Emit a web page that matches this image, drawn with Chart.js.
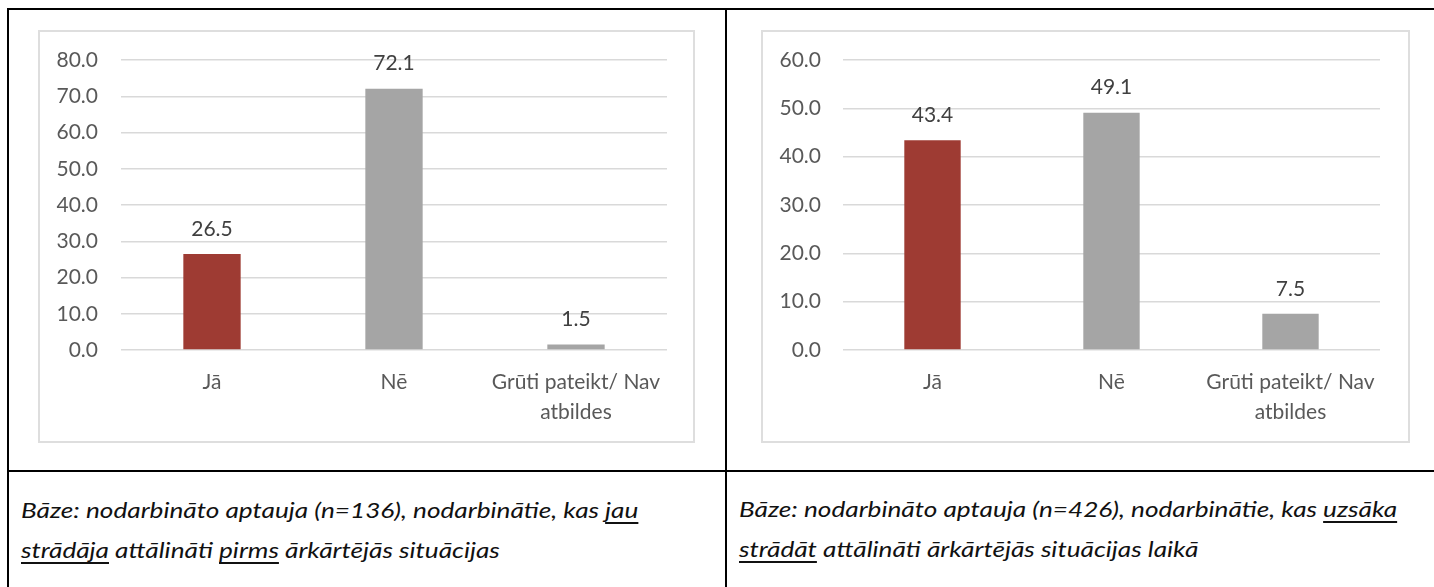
<!DOCTYPE html>
<html>
<head>
<meta charset="utf-8">
<script src="https://cdn.jsdelivr.net/npm/chart.js@4"></script>
<style>
  body { margin: 0; background: #fff; font-family: Lato, sans-serif; }
  .rule { position: absolute; background: #000; }
  .frame { position: absolute; border: 2px solid #dedede; box-sizing: border-box; }
  .plot { position: absolute; }
  .caption {
    position: absolute; font-style: italic; font-size: 22px; line-height: 40px;
    white-space: nowrap; color: #111;
    transform: scaleX(1.19); transform-origin: 0 0;
  }
  .caption u { text-underline-offset: 4px; text-decoration-thickness: 1.5px; }
</style>
</head>
<body>
<!-- table grid -->
<div class="rule" style="left:7px; top:8px; width:1427px; height:2px"></div>
<div class="rule" style="left:7px; top:8px; width:2px; height:579px"></div>
<div class="rule" style="left:725px; top:8px; width:2px; height:579px"></div>
<div class="rule" style="left:7px; top:470px; width:1427px; height:2px"></div>

<div class="frame" style="left:38px; top:30px; width:657px; height:413px"></div>
<div class="frame" style="left:761px; top:30px; width:649px; height:413px"></div>

<canvas class="plot" id="chartBefore" width="656" height="412" style="left:38px; top:30px"></canvas>
<canvas class="plot" id="chartDuring" width="648" height="412" style="left:761px; top:30px"></canvas>

<div class="caption" style="left:21px; top:490px">
  Bāze: nodarbināto aptauja (n=136), nodarbinātie, kas <u>jau</u><br>
  <u>strādāja</u> attālināti <u>pirms</u> ārkārtējās situācijas
</div>
<div class="caption" style="left:739px; top:489px">
  Bāze: nodarbināto aptauja (n=426), nodarbinātie, kas <u>uzsāka</u><br>
  <u>strādāt</u> attālināti ārkārtējās situācijas laikā
</div>

<script>
  const categories = ["Jā", "Nē", ["Grūti pateikt/ Nav", "atbildes"]];
  const barColors = ["#9e3b33", "#a5a5a5", "#a5a5a5"];

  // already worked remotely before the emergency
  const valuesBefore = [26.5, 72.1, 1.5];
  // started working remotely during the emergency
  const valuesDuring = [43.4, 49.1, 7.5];

  const FONT = { family: "Lato, sans-serif", size: 21 };

  // writes the value above each bar
  const valueLabels = {
    id: "valueLabels",
    afterDatasetsDraw(chart) {
      const ctx = chart.ctx;
      const ds = chart.data.datasets[0];
      ctx.save();
      ctx.font = FONT.size + "px " + FONT.family;
      ctx.fillStyle = "#404040";
      ctx.textAlign = "center";
      ctx.textBaseline = "middle";
      chart.getDatasetMeta(0).data.forEach((bar, i) => {
        ctx.fillText(ds.data[i].toFixed(1), bar.x, bar.y - 25);
      });
      ctx.restore();
    },
  };

  function createChart(id, values, yMax, axisWidth, rightPad, labelPad) {
    const ctx = document.getElementById(id).getContext("2d");
    return new Chart(ctx, {
      type: "bar",
      data: {
        labels: categories,
        datasets: [
          {
            data: values,
            backgroundColor: barColors,
            categoryPercentage: 1,
            barPercentage: 0.315,
          },
        ],
      },
      options: {
        responsive: false,
        animation: false,
        layout: { padding: { top: 30, right: rightPad, left: 0, bottom: 0 } },
        plugins: { legend: { display: false }, tooltip: { enabled: false } },
        scales: {
          x: {
            grid: { display: false },
            border: { display: false },
            ticks: {
              color: "#595959",
              font: { ...FONT, lineHeight: 30 / 21 },
              padding: 9,
              maxRotation: 0,
              autoSkip: false,
            },
            afterFit: (s) => { s.height = 92; },
          },
          y: {
            min: 0,
            max: yMax,
            border: { display: false },
            grid: { color: "#d9d9d9", lineWidth: 1.5, drawTicks: false },
            ticks: {
              stepSize: 10,
              color: "#595959",
              font: FONT,
              padding: labelPad,
              callback: (v) => v.toFixed(1),
            },
            // fixed axis width; label padding should not push the plot down
            afterFit: (s) => {
              s.width = axisWidth;
              s.paddingTop = 0;
              s.paddingBottom = 0;
            },
          },
        },
      },
      plugins: [valueLabels],
    });
  }

  createChart("chartBefore", valuesBefore, 80, 83, 27, 23);
  createChart("chartDuring", valuesDuring, 60, 82, 29, 22);
</script>
</body>
</html>
